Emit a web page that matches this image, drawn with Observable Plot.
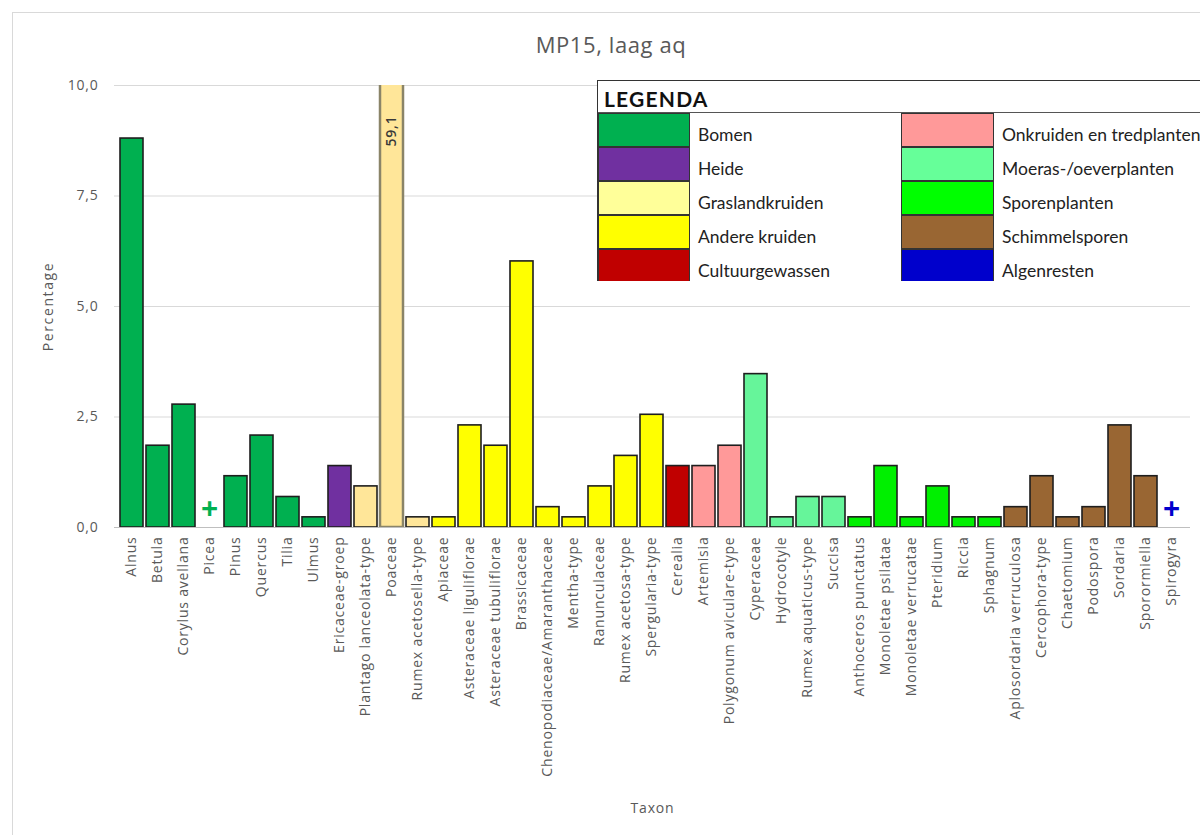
<!DOCTYPE html>
<html>
<head>
<meta charset="utf-8">
<script src="https://cdn.jsdelivr.net/npm/d3@7"></script>
<script src="https://cdn.jsdelivr.net/npm/@observablehq/plot@0.6"></script>
<style>
  html, body { margin: 0; padding: 0; background: #fff; overflow: hidden; }
  #wrap { position: relative; width: 1200px; height: 835px; overflow: hidden; font-family: "Open Sans", sans-serif; }
  #frame { position: absolute; left: 12px; top: 12px; width: 1300px; height: 900px; border-top: 1px solid #d9d9d9; border-left: 1px solid #d9d9d9; }
  #title { position: absolute; left: 0; width: 1222px; top: 29px; text-align: center; font-size: 22px; letter-spacing: 0.6px; color: #595959; }
  #chart { position: absolute; left: 0; top: 0; }
  #chart svg text { letter-spacing: 0.8px; }
  #chart svg g[aria-label="y-axis label"] text { letter-spacing: 1.6px; }
  #legend { position: absolute; left: 597px; top: 80px; width: 620px; height: 201px; overflow: hidden; background: #fff;
            border-top: 1.5px solid #333; border-left: 1.5px solid #333; font-family: "Lato", sans-serif; box-sizing: border-box; }
  #legend .head { height: 32px; border-bottom: 1.5px solid #555; font-weight: bold; font-size: 21px; letter-spacing: 1.2px; color: #111; padding-left: 6px; line-height: 36px; box-sizing: border-box; }
  #legend .grid { display: grid; grid-template-columns: 92px 211px 93px 211px; grid-auto-rows: 34px; }
  #legend .sw { border: 1px solid #333; box-sizing: border-box; }
  #legend .lb { font-size: 17.5px; color: #222; padding-left: 8px; display: flex; align-items: flex-end; padding-bottom: 2px; box-sizing: border-box; white-space: nowrap; }
</style>
</head>
<body>
<div id="wrap">
  <div id="frame"></div>
  <div id="chart"></div>
  <div id="title">MP15, laag aq</div>
  <div id="legend"></div>
</div>
<script>
// ---- data ----
const taxa = [
  "Alnus", "Betula", "Corylus avellana", "Picea", "Pinus", "Quercus", "Tilia", "Ulmus",
  "Ericaceae-groep",
  "Plantago lanceolata-type", "Poaceae", "Rumex acetosella-type",
  "Apiaceae", "Asteraceae liguliflorae", "Asteraceae tubuliflorae", "Brassicaceae",
  "Chenopodiaceae/Amaranthaceae", "Mentha-type", "Ranunculaceae", "Rumex acetosa-type", "Spergularia-type",
  "Cerealia",
  "Artemisia", "Polygonum aviculare-type",
  "Cyperaceae", "Hydrocotyle", "Rumex aquaticus-type", "Succisa",
  "Anthoceros punctatus", "Monoletae psilatae", "Monoletae verrucatae", "Pteridium", "Riccia", "Sphagnum",
  "Aplosordaria verruculosa", "Cercophora-type", "Chaetomium", "Podospora", "Sordaria", "Sporormiella",
  "Spirogyra"
];
const values = [
  8.80, 1.85, 2.78, 0, 1.16, 2.08, 0.69, 0.23,
  1.39,
  0.93, 59.1, 0.23,
  0.23, 2.31, 1.85, 6.02,
  0.46, 0.23, 0.93, 1.62, 2.55,
  1.39,
  1.39, 1.85,
  3.47, 0.23, 0.69, 0.69,
  0.23, 1.39, 0.23, 0.93, 0.23, 0.23,
  0.46, 1.16, 0.23, 0.46, 2.31, 1.16,
  0
];
const groups = [
  "Bomen", "Bomen", "Bomen", "Bomen", "Bomen", "Bomen", "Bomen", "Bomen",
  "Heide",
  "Graslandkruiden", "Graslandkruiden", "Graslandkruiden",
  "Andere kruiden", "Andere kruiden", "Andere kruiden", "Andere kruiden",
  "Andere kruiden", "Andere kruiden", "Andere kruiden", "Andere kruiden", "Andere kruiden",
  "Cultuurgewassen",
  "Onkruiden en tredplanten", "Onkruiden en tredplanten",
  "Moeras-/oeverplanten", "Moeras-/oeverplanten", "Moeras-/oeverplanten", "Moeras-/oeverplanten",
  "Sporenplanten", "Sporenplanten", "Sporenplanten", "Sporenplanten", "Sporenplanten", "Sporenplanten",
  "Schimmelsporen", "Schimmelsporen", "Schimmelsporen", "Schimmelsporen", "Schimmelsporen", "Schimmelsporen",
  "Algenresten"
];
// taxa present but not counted (shown as "+")
const presentTaxa = ["Picea", "Spirogyra"];

const groupNames = ["Bomen", "Heide", "Graslandkruiden", "Andere kruiden", "Cultuurgewassen",
  "Onkruiden en tredplanten", "Moeras-/oeverplanten", "Sporenplanten", "Schimmelsporen", "Algenresten"];
const barFills = ["#00b050", "#7030a0", "#ffe699", "#ffff00", "#c00000",
  "#ff9999", "#66f59a", "#00f000", "#996633", "#0000cc"];
const legendFills = ["#00b050", "#7030a0", "#ffff99", "#ffff00", "#c00000",
  "#ff9999", "#66ff99", "#00ff00", "#996633", "#0000cc"];
const yTicks = [0, 2.5, 5, 7.5, 10];

// ---- build ----
const rows = taxa.map((t, i) => ({taxon: t, value: values[i], group: groups[i]}));
const fillOf = g => barFills[groupNames.indexOf(g)];
const fmt = d => d.toFixed(1).replace(".", ",");
const yMax = d3.max(yTicks);

const chart = Plot.plot({
  width: 1200,
  height: 835,
  marginLeft: 114,
  marginRight: 10,
  marginTop: 85,
  marginBottom: 308,
  style: {fontFamily: "Open Sans, sans-serif", fontSize: "14px", color: "#595959", background: "transparent", overflow: "visible"},
  x: {domain: taxa, padding: 0.1},
  y: {domain: [0, yMax]},
  marks: [
    Plot.gridY(yTicks, {stroke: "#d9d9d9", strokeOpacity: 1}),
    Plot.ruleY([0], {stroke: "#bfbfbf", strokeWidth: 1.2}),
    Plot.barY(rows.filter(d => d.value > 0), {
      x: "taxon", y: "value",
      fill: d => fillOf(d.group),
      stroke: d => d.value > yMax ? "#8a8468" : "#1e1e1e",
      strokeWidth: d => d.value > yMax ? 2.5 : 1.6,
      clip: true
    }),
    Plot.text(rows.filter(d => d.value > yMax), {
      x: "taxon", y: () => yMax,
      text: d => fmt(d.value),
      rotate: -90, textAnchor: "end", dy: 30,
      fontSize: 14, fontWeight: 600, fill: "#3a3a3a"
    }),
    Plot.text(rows.filter(d => presentTaxa.includes(d.taxon)), {
      x: "taxon", y: () => 0,
      text: () => "+",
      dy: -18, fontSize: 30, fontWeight: "bold",
      fill: d => fillOf(d.group)
    }),
    Plot.axisY({
      ticks: yTicks, tickFormat: fmt, tickSize: 0, tickPadding: 16,
      label: "Percentage", labelAnchor: "center", labelOffset: 71, labelArrow: "none",
      fontSize: 14, color: "#595959"
    }),
    Plot.axisX({
      tickRotate: -90, tickSize: 0, tickPadding: 9,
      label: "Taxon", labelAnchor: "center", labelOffset: 285, labelArrow: "none",
      fontSize: 14, color: "#595959"
    })
  ]
});
document.getElementById("chart").appendChild(chart);

// legend
const lg = document.getElementById("legend");
const head = document.createElement("div");
head.className = "head";
head.textContent = "LEGENDA";
lg.appendChild(head);
const grid = document.createElement("div");
grid.className = "grid";
for (let r = 0; r < 5; r++) {
  for (const c of [r, r + 5]) {
    const sw = document.createElement("div");
    sw.className = "sw";
    sw.style.background = legendFills[c];
    const lb = document.createElement("div");
    lb.className = "lb";
    lb.textContent = groupNames[c];
    grid.appendChild(sw);
    grid.appendChild(lb);
  }
}
lg.appendChild(grid);
</script>
</body>
</html>
